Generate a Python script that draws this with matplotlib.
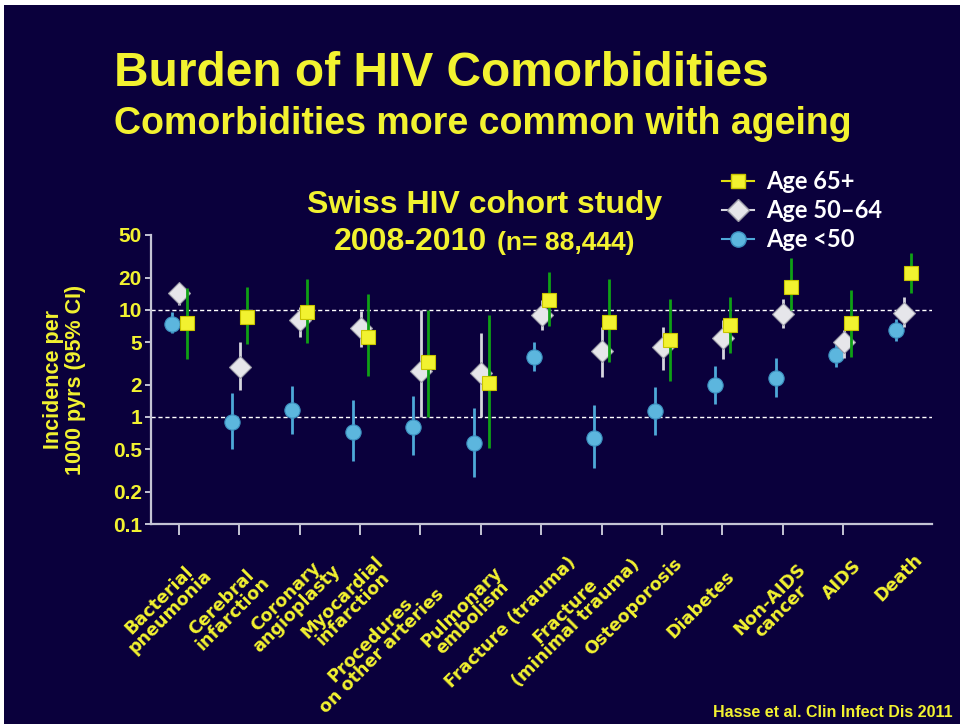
import numpy as np
import matplotlib
matplotlib.use("Agg")
import matplotlib.pyplot as plt
import matplotlib.transforms as mtransforms
from matplotlib.lines import Line2D
from matplotlib.patches import Rectangle

categories = ["Bacterial\npneumonia", "Cerebral\ninfarction", "Coronary\nangioplasty",
              "Myocardial\ninfarction", "Procedures\non other arteries", "Pulmonary\nembolism",
              "Fracture (trauma)", "Fracture\n(minimal trauma)", "Osteoporosis", "Diabetes",
              "Non-AIDS\ncancer", "AIDS", "Death"]

# incidence per 1000 pyrs with 95% CI
inc_65 = [7.6, 8.65, 9.6, 5.63, 3.24, 2.09, 12.4, 7.78, 5.24, 7.2, 16.5, 7.6, 22.3]
lo_65 = [3.5, 4.8, 4.95, 2.42, 1.0, 0.51, 7.13, 3.29, 2.18, 3.94, 9.86, 3.66, 14.5]
hi_65 = [16.0, 16.5, 19.4, 14.1, 10.0, 8.98, 22.8, 19.4, 12.7, 13.3, 30.8, 15.4, 33.8]

inc_50 = [14.5, 2.95, 8.07, 6.83, 2.69, 2.56, 8.98, 4.14, 4.48, 5.44, 9.12, 5.06, 9.43]
lo_50 = [11.0, 1.79, 5.6, 4.5, 1.0, 1.0, 6.5, 2.35, 2.75, 3.46, 6.83, 3.53, 6.98]
hi_50 = [18.0, 5.0, 10.7, 9.85, 10.0, 6.05, 12.4, 6.98, 6.98, 8.07, 12.7, 6.5, 13.1]

inc_u50 = [7.35, 0.89, 1.16, 0.73, 0.81, 0.575, 3.61, 0.63, 1.14, 1.99, 2.3, 3.8, 6.5]
lo_u50 = [6.1, 0.50, 0.69, 0.385, 0.44, 0.277, 2.71, 0.33, 0.68, 1.32, 1.55, 2.91, 5.16]
hi_u50 = [9.6, 1.66, 1.96, 1.44, 1.57, 1.2, 5.06, 1.29, 1.92, 3.0, 3.53, 5.06, 8.19]

yticks = [0.1, 0.2, 0.5, 1, 2, 5, 10, 20, 50]
ytick_labels = ["0.1", "0.2", "0.5", "1", "2", "5", "10", "20", "50"]

# label anchor offsets from the tick, in pixels (hand placed on the slide)
lab_dx = [25, 22, 32, 26, 15, 24, 32, 30, 17, 9, 26, 15, 16]
lab_dy = [43, 50, 38, 41, 62, 51, 36, 32, 37, 50, 48, 39, 33]

NAVY = "#0a003c"
YEL = "#f2f230"
AXC = "#c4c4d4"

fig = plt.figure(figsize=(9.6, 7.24), dpi=100)
fig.patch.set_facecolor("white")
fig.patches.append(Rectangle((4 / 960, 0), 1, 1 - 5 / 724, transform=fig.transFigure,
                             facecolor=NAVY, edgecolor="none", zorder=-10))

ax = fig.add_axes([151 / 960, 1 - 524 / 724, (932 - 151) / 960, (524 - 235) / 724])
ax.set_facecolor("none")

x = np.arange(len(categories))

def draw(xs, v, lo, hi, **kw):
    v = np.array(v); lo = np.array(lo); hi = np.array(hi)
    ax.errorbar(xs, v, yerr=[v - lo, hi - v], capsize=0, linestyle="none", **kw)

draw(x - 0.12, inc_u50, lo_u50, hi_u50, fmt="o", ms=11, mfc="#5cb6de", mec="#3b8fbf",
     mew=0.8, ecolor="#4ea9d8", elinewidth=2, zorder=3)
draw(x + 0.01, inc_50, lo_50, hi_50, fmt="D", ms=11, mfc="#e6e6ea", mec="#9c9ca8",
     mew=0.8, ecolor="#d6d6de", elinewidth=2, zorder=4)
draw(x + 0.13, inc_65, lo_65, hi_65, fmt="s", ms=10, mfc=YEL, mec="#c8c400",
     mew=0.8, ecolor="#0fa015", elinewidth=2, zorder=5)

ax.axhline(10, color="white", lw=1, ls=(0, (3, 2)), zorder=1)
ax.axhline(1, color="white", lw=1, ls=(0, (3, 2)), zorder=1)

ax.set_yscale("log")
ax.set_ylim(0.1, 50)
ax.set_xlim(-0.46, 12.47)
ax.set_yticks(yticks)
ax.set_yticklabels(ytick_labels)
ax.yaxis.set_minor_locator(matplotlib.ticker.NullLocator())
ax.set_xticks(x)
ax.set_xticklabels([])
ax.xaxis.get_major_ticks()[-1].tick1line.set_visible(False)

for s in ["top", "right"]:
    ax.spines[s].set_visible(False)
for s in ["left", "bottom"]:
    ax.spines[s].set_color(AXC)
    ax.spines[s].set_linewidth(1.6)
ax.tick_params(axis="x", direction="out", length=8, width=1.4, color=AXC)
ax.tick_params(axis="y", direction="out", length=4.5, width=1.4, color=AXC, pad=2,
               labelcolor=YEL, labelsize=15)
for t in ax.get_yticklabels():
    t.set_fontfamily("Liberation Sans")
    t.set_fontweight("bold")

ax.set_ylabel("Incidence per\n1000 pyrs (95% CI)", color=YEL, fontsize=15.5,
              fontweight="bold", family="Liberation Sans", labelpad=19, linespacing=1.1)

for i, lab in enumerate(categories):
    off = mtransforms.ScaledTranslation(lab_dx[i] / 100, -lab_dy[i] / 100, fig.dpi_scale_trans)
    ax.text(i, 0, lab, transform=ax.get_xaxis_transform() + off, rotation=45,
            rotation_mode="anchor", ha="right", va="center", multialignment="center",
            color=YEL, fontsize=12.6, fontweight="bold", family="DejaVu Sans", linespacing=0.85)

# titles
fig.text(114 / 960, 1 - 86 / 724, "Burden of HIV Comorbidities", color=YEL, fontsize=34.5,
         fontweight="bold", family="Liberation Sans", va="baseline")
fig.text(114 / 960, 1 - 134 / 724, "Comorbidities more common with ageing", color=YEL,
         fontsize=27, fontweight="bold", family="Liberation Sans", va="baseline")
fig.text(485 / 960, 1 - 213 / 724, "Swiss HIV cohort study", color=YEL, fontsize=23,
         fontweight="bold", family="Liberation Sans", va="baseline", ha="center")
fig.text(487 / 960, 1 - 250 / 724, "2008-2010", color=YEL, fontsize=23,
         fontweight="bold", family="Liberation Sans", va="baseline", ha="right")
fig.text(497 / 960, 1 - 250 / 724, "(n= 88,444)", color=YEL, fontsize=19,
         fontweight="bold", family="Liberation Sans", va="baseline", ha="left")
fig.text(953 / 960, 1 - 717 / 724, "Hasse et al. Clin Infect Dis 2011", color=YEL,
         fontsize=11.5, fontweight="bold", family="Liberation Sans", va="baseline", ha="right")

handles = [
    Line2D([], [], color="#e0e010", lw=1.5, marker="s", ms=10, mfc=YEL, mec="#c8c400"),
    Line2D([], [], color="#d6d6de", lw=1.5, marker="D", ms=11, mfc="#e6e6ea", mec="#9c9ca8"),
    Line2D([], [], color="#4ea9d8", lw=1.5, marker="o", ms=11, mfc="#5cb6de", mec="#3b8fbf"),
]
leg = ax.legend(handles, ["Age 65+", "Age 50\u201364", "Age <50"], loc="upper left",
                bbox_to_anchor=(722 / 960, 1 - 170 / 724), bbox_transform=fig.transFigure,
                frameon=False, labelcolor="white", handlelength=1.35, handletextpad=0.5,
                labelspacing=0.25, borderpad=0, borderaxespad=0,
                prop=dict(family="Lato", weight="bold", size=17))

fig.savefig("out.png", dpi=100, facecolor=fig.get_facecolor())
